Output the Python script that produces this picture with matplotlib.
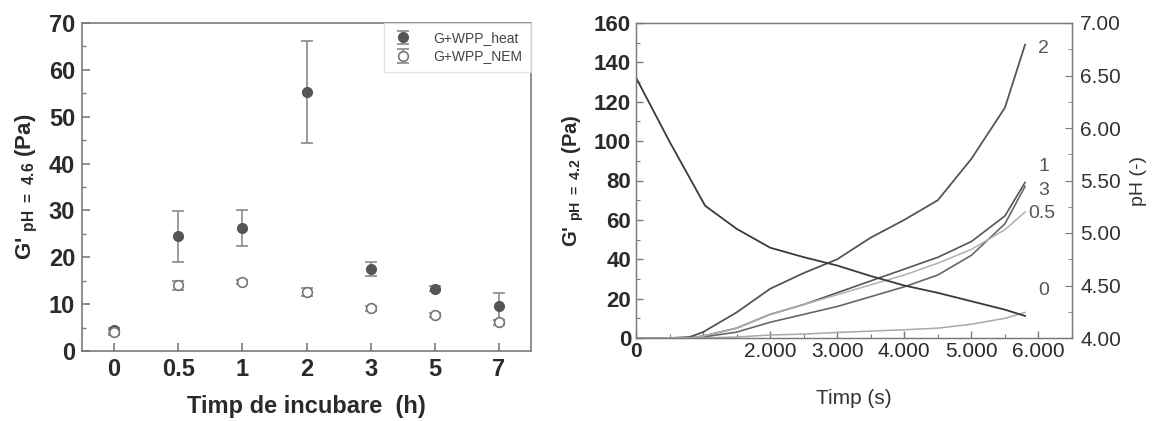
import matplotlib
matplotlib.use("Agg")
import matplotlib.pyplot as plt
from matplotlib.ticker import MultipleLocator, FixedLocator
import numpy as np

plt.rcParams['font.family'] = ['Liberation Sans', 'DejaVu Sans']
plt.rcParams['mathtext.fontset'] = 'custom'
plt.rcParams['mathtext.rm'] = 'Liberation Sans:bold'
plt.rcParams['mathtext.default'] = 'rm'

# ---------------- Left chart data ----------------
categories = ["0", "0.5", "1", "2", "3", "5", "7"]
heat_vals = [4.4, 24.5, 26.2, 55.3, 17.5, 13.3, 9.5]
heat_err = [0.5, 5.4, 3.8, 10.9, 1.4, 0.5, 2.8]
nem_vals = [4.0, 14.0, 14.8, 12.6, 9.1, 7.7, 6.1]
nem_err = [0.5, 1.0, 0.4, 0.8, 0.5, 0.4, 0.6]

# ---------------- Right chart data ----------------
time_s = [0, 500, 800, 1000, 1500, 2000, 2500, 3000, 3500, 4000, 4500, 5000, 5500, 5800]
g_2 = [0, 0, 0.5, 3, 13, 25, 33, 40, 51, 60, 70, 91, 117, 149]
g_1 = [0, 0, 0, 1, 5, 12, 17, 23, 29, 35, 41, 49, 62, 79]
g_3 = [0, 0, 0, 0.5, 3, 8, 12, 16, 21, 26, 32, 42, 58, 77]
g_05 = [0, 0, 0, 1, 5, 12, 17, 22, 27, 32, 38, 45, 55, 64]
g_0 = [0, 0, 0, 0, 0.5, 1.5, 2, 2.8, 3.5, 4.2, 5, 7, 10, 13]
ph_time = [0, 500, 1030, 1500, 2000, 2500, 3000, 3500, 4000, 4500, 5000, 5500, 5800]
ph_vals = [6.48, 5.87, 5.26, 5.04, 4.86, 4.77, 4.69, 4.59, 4.50, 4.43, 4.35, 4.27, 4.21]
curve_labels = ["2", "1", "3", "0.5", "0"]

W, H = 1157, 421
fig = plt.figure(figsize=(W / 100, H / 100), dpi=100)

frame_col = '#7a7a7a'
text_col = '#2a2a2a'

# ================= Left axes =================
ax1 = fig.add_axes([82 / W, 1 - 351 / H, (531 - 82) / W, (351 - 23) / H])
x = np.arange(len(categories))
ax1.errorbar(x, heat_vals, yerr=heat_err, fmt='o', color='#555555', ms=7,
             ecolor='#8a8a8a', elinewidth=1.2, capsize=4, capthick=1.2,
             label='G+WPP_heat', zorder=3)
ax1.errorbar(x, nem_vals, yerr=nem_err, fmt='o', mfc='white', mec='#777777',
             mew=1.2, ms=7, ecolor='#8a8a8a', elinewidth=1.2, capsize=4,
             capthick=1.2, label='G+WPP_NEM', zorder=3)
ax1.set_xlim(-0.5, len(categories) - 0.5)
ax1.set_ylim(0, 70)
ax1.set_xticks(x)
ax1.set_xticklabels(categories)
ax1.yaxis.set_major_locator(MultipleLocator(10))
ax1.yaxis.set_minor_locator(MultipleLocator(5))
ax1.tick_params(axis='both', which='both', direction='in', color=frame_col,
                labelsize=17, labelcolor=text_col, top=False, right=False)
ax1.tick_params(axis='both', which='major', length=6, width=1.2, pad=5)
ax1.tick_params(axis='y', which='minor', length=3, width=1)
for lab in ax1.get_xticklabels() + ax1.get_yticklabels():
    lab.set_fontweight('bold')
for sp in ax1.spines.values():
    sp.set_color(frame_col)
    sp.set_linewidth(1.2)
ax1.set_xlabel('Timp de incubare  (h)', fontsize=17, fontweight='bold',
               color=text_col, labelpad=10)
ax1.set_ylabel(r"G' $_{\mathrm{pH\ =\ 4.6}}$ (Pa)", fontsize=16,
               fontweight='bold', color=text_col, labelpad=6)
leg = ax1.legend(loc='upper right', fontsize=10, frameon=True, fancybox=False,
                 edgecolor='#dddddd', borderaxespad=0.0, handletextpad=1.4,
                 handlelength=1.6, borderpad=0.6, labelspacing=0.3)
for t in leg.get_texts():
    t.set_color('#444444')

# ================= Right axes =================
ax2 = fig.add_axes([636 / W, 1 - 338 / H, (1072 - 636) / W, (338 - 23) / H])
ax2.plot(time_s, g_2, color='#555555', lw=1.3)
ax2.plot(time_s, g_1, color='#555555', lw=1.2)
ax2.plot(time_s, g_3, color='#666666', lw=1.2)
ax2.plot(time_s, g_05, color='#b0b0b0', lw=1.1)
ax2.plot(time_s, g_0, color='#a8a8a8', lw=1.1)
ax2.set_xlim(0, 6500)
ax2.set_ylim(0, 160)
ax2.yaxis.set_major_locator(MultipleLocator(20))
ax2.yaxis.set_minor_locator(MultipleLocator(10))
ax2.xaxis.set_major_locator(FixedLocator([0, 1000, 2000, 3000, 4000, 5000, 6000]))
ax2.xaxis.set_minor_locator(MultipleLocator(500))
ax2.set_xticklabels(['0', '', '2.000', '3.000', '4.000', '5.000', '6.000'])
ax2.tick_params(axis='both', which='both', direction='in', color=frame_col,
                labelcolor=text_col, top=False, right=False)
ax2.tick_params(axis='y', labelsize=16)
ax2.tick_params(axis='x', labelsize=15, pad=3)
ax2.tick_params(axis='both', which='major', length=5, width=1)
ax2.tick_params(axis='both', which='minor', length=3, width=0.8)
for lab in ax2.get_yticklabels():
    lab.set_fontweight('bold')
ax2.get_xticklabels()[0].set_fontweight('bold')
for sp in ax2.spines.values():
    sp.set_color(frame_col)
    sp.set_linewidth(1.0)
ax2.set_xlabel('Timp (s)', fontsize=15, color='#333333', labelpad=20)
ax2.set_ylabel(r"G' $_{\mathrm{pH\ =\ 4.2}}$ (Pa)", fontsize=14.5,
               fontweight='bold', color=text_col, labelpad=6)

label_y = [147, 87, 75, 63, 24]
label_x = [6000, 6000, 6000, 5850, 6000]
for lbl, lx, ly in zip(curve_labels, label_x, label_y):
    ax2.text(lx, ly, lbl, fontsize=14, color='#555555', va='center', ha='left')

ax3 = ax2.twinx()
ax3.plot(ph_time, ph_vals, color='#3a3a3a', lw=1.3)
ax3.set_ylim(4.0, 7.0)
ax3.yaxis.set_major_locator(MultipleLocator(0.5))
ax3.yaxis.set_minor_locator(MultipleLocator(0.25))
ax3.yaxis.set_major_formatter(matplotlib.ticker.FormatStrFormatter('%.2f'))
ax3.tick_params(axis='y', which='both', direction='in', color=frame_col,
                labelsize=15, labelcolor='#333333', pad=6)
ax3.tick_params(axis='y', which='major', length=5)
ax3.tick_params(axis='y', which='minor', length=3)
for sp in ax3.spines.values():
    sp.set_color(frame_col)
ax3.set_ylabel('pH (-)', fontsize=14, color='#333333', labelpad=6)

fig.savefig('out.png', dpi=100)
